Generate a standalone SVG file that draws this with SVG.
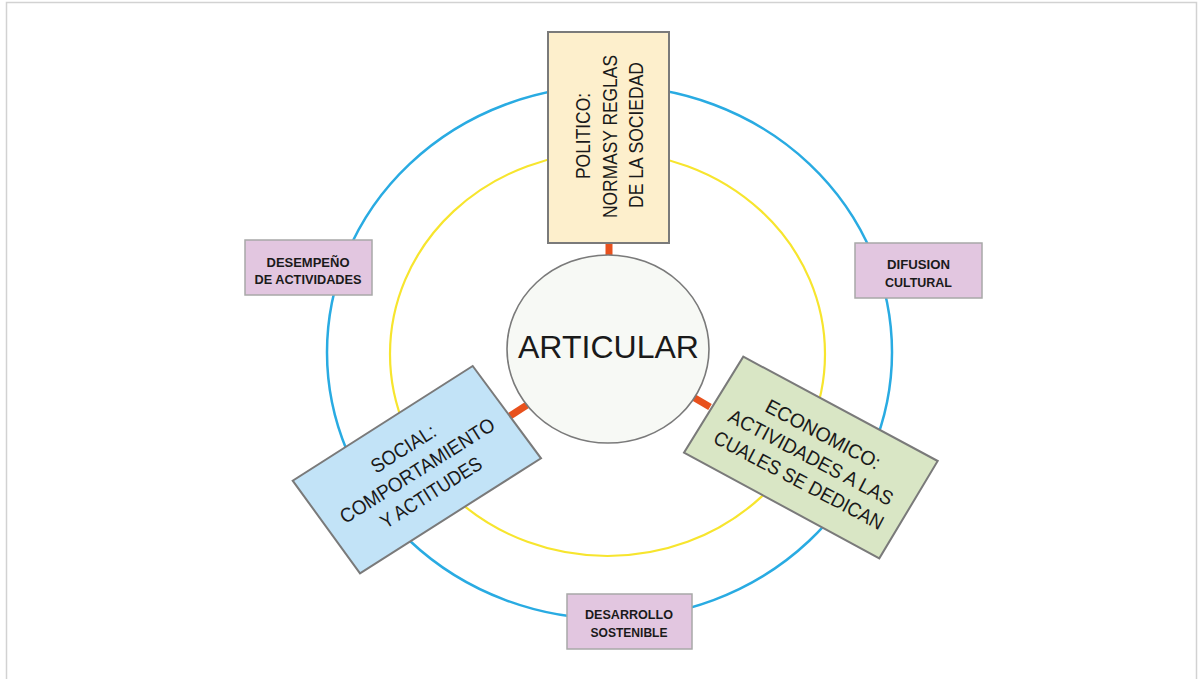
<svg xmlns="http://www.w3.org/2000/svg" width="1204" height="679" viewBox="0 0 1204 679">
<style>
text{font-family:"Liberation Sans","Open Sans",Arial,sans-serif;fill:#1a1a1a}
.big{font-size:20px;text-anchor:middle}
.small{font-size:12.5px;font-weight:bold;text-anchor:middle}
.bigbox{stroke:#7a7a7a;stroke-width:2}
.pink{fill:#e2c6e0;stroke:#a8a8a8;stroke-width:1.5}
.link{stroke:#e8511d;stroke-width:7;fill:none}
</style>
<rect x="6.5" y="2.5" width="1190" height="700" fill="#ffffff" stroke="#d2d2d2" stroke-width="1.5"/>
<g id="rings" fill="none">
<ellipse cx="609.5" cy="352.3" rx="282.5" ry="266.5" stroke="#29abe2" stroke-width="2.5"/>
<ellipse cx="607.5" cy="354" rx="217.5" ry="202" stroke="#f7e52e" stroke-width="2.2"/>
</g>
<g id="connectors">
<line class="link" x1="609" y1="243" x2="609" y2="257"/>
<line class="link" x1="510" y1="416" x2="527" y2="405"/>
<line class="link" x1="693" y1="397" x2="710" y2="407"/>
</g>
<g id="center">
<ellipse cx="608" cy="349" rx="101" ry="94" fill="#f7f9f5" stroke="#7a7a7a" stroke-width="1.6"/>
<text x="608.5" y="358" font-size="32" text-anchor="middle" textLength="181" lengthAdjust="spacingAndGlyphs">ARTICULAR</text>
</g>
<g id="politico">
<rect class="bigbox" x="548" y="32" width="121" height="211" fill="#fdefcc"/>
<text class="big" font-size="21" transform="translate(590,136) rotate(-90)" textLength="86" lengthAdjust="spacingAndGlyphs">POLITICO:</text>
<text class="big" font-size="21" transform="translate(617,136.5) rotate(-90)" textLength="163" lengthAdjust="spacingAndGlyphs">NORMASY REGLAS</text>
<text class="big" font-size="21" transform="translate(643,135) rotate(-90)" textLength="146" lengthAdjust="spacingAndGlyphs">DE LA SOCIEDAD</text>
</g>
<g id="social">
<polygon class="bigbox" points="472.7,366 541,458.3 360,573.3 292.7,480.7" fill="#c2e3f7"/>
<g transform="translate(416.6,469.6) rotate(-32.3)">
<text class="big" x="0" y="-18" textLength="73" lengthAdjust="spacingAndGlyphs">SOCIAL:</text>
<text class="big" x="0" y="8" textLength="179" lengthAdjust="spacingAndGlyphs">COMPORTAMIENTO</text>
<text class="big" x="0" y="34" textLength="116" lengthAdjust="spacingAndGlyphs">Y ACTITUDES</text>
</g>
</g>
<g id="economico">
<polygon class="bigbox" points="743.3,356.7 937.7,461 879.3,558.3 684,452.7" fill="#d9e6c5"/>
<g transform="translate(811,457.2) rotate(27.8)">
<text class="big" x="0" y="-19" textLength="127" lengthAdjust="spacingAndGlyphs">ECONOMICO:</text>
<text class="big" x="0" y="7" textLength="183" lengthAdjust="spacingAndGlyphs">ACTIVIDADES A LAS</text>
<text class="big" x="0" y="33" textLength="189" lengthAdjust="spacingAndGlyphs">CUALES SE DEDICAN</text>
</g>
</g>
<g id="desempeno">
<rect class="pink" x="245" y="240" width="127" height="55"/>
<text class="small" x="308" y="266.5" textLength="83" lengthAdjust="spacingAndGlyphs">DESEMPEÑO</text>
<text class="small" x="308" y="283.5" textLength="107" lengthAdjust="spacingAndGlyphs">DE ACTIVIDADES</text>
</g>
<g id="difusion">
<rect class="pink" x="855" y="243" width="127" height="55"/>
<text class="small" x="918.5" y="268.5" textLength="63" lengthAdjust="spacingAndGlyphs">DIFUSION</text>
<text class="small" x="918.5" y="287" textLength="67" lengthAdjust="spacingAndGlyphs">CULTURAL</text>
</g>
<g id="desarrollo">
<rect class="pink" x="567" y="594" width="125" height="55"/>
<text class="small" x="629" y="618.5" textLength="88" lengthAdjust="spacingAndGlyphs">DESARROLLO</text>
<text class="small" x="629" y="637" textLength="77" lengthAdjust="spacingAndGlyphs">SOSTENIBLE</text>
</g>
</svg>
